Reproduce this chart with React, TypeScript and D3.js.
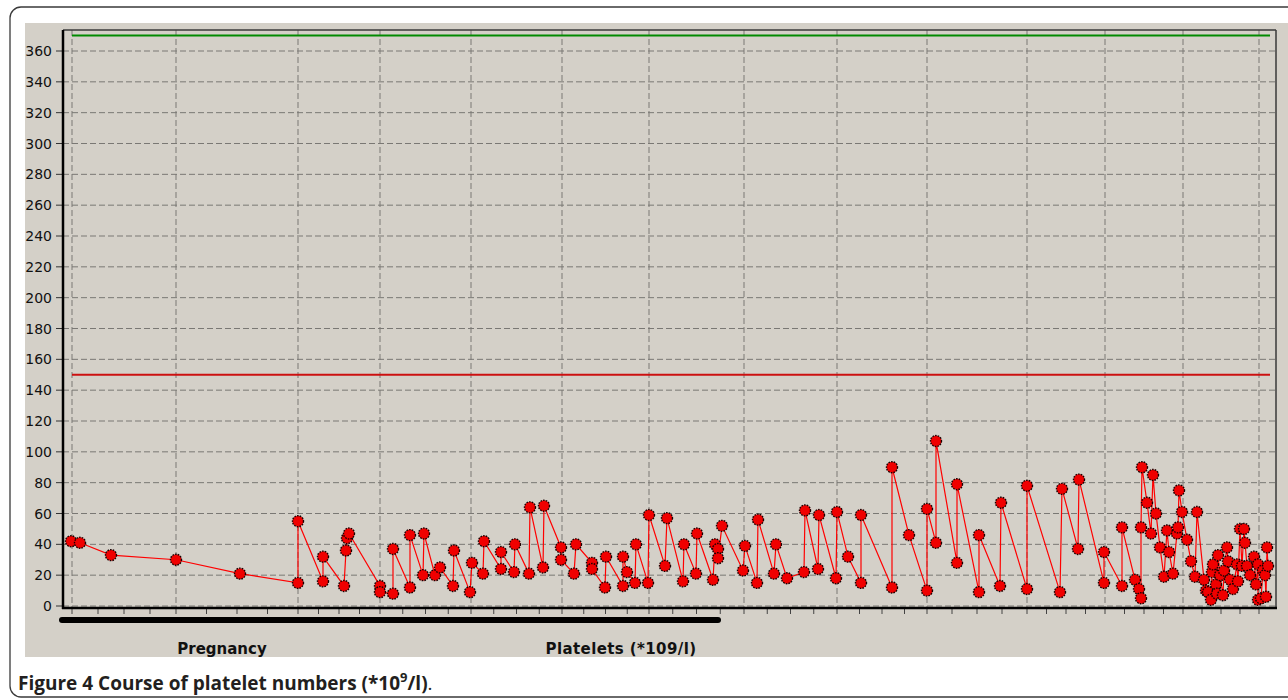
import * as d3 from "d3"

// measurement day (since first visit) and platelet count (*10^9/l)
const DAYS = [
  9, 18, 49, 114, 178, 236, 236, 261, 261, 282, 284, 285, 287, 318, 318, 331, 331, 348, 348, 361,
  362, 373, 378, 391, 392, 408, 410, 421, 422, 439, 439, 452, 453, 467, 468, 481, 482, 499, 499, 512,
  514, 530, 530, 543, 544, 561, 561, 565, 573, 574, 586, 587, 603, 605, 621, 622, 634, 635, 651, 653,
  656, 656, 660, 681, 683, 695, 696, 712, 714, 725, 742, 743, 756, 757, 774, 775, 786, 799, 799, 830,
  830, 847, 865, 865, 874, 874, 895, 895, 917, 917, 938, 939, 965, 965, 998, 1000, 1016, 1017, 1042, 1042,
  1060, 1060, 1073, 1077, 1079, 1079, 1080, 1085, 1089, 1091, 1094, 1098, 1102, 1105, 1107, 1111, 1115, 1116, 1117, 1120,
  1125, 1129, 1133, 1135, 1142, 1144, 1146, 1149, 1150, 1151, 1154, 1155, 1156, 1158, 1161, 1162, 1165, 1166, 1168, 1171,
  1175, 1176, 1178, 1180, 1182, 1183, 1185, 1188, 1192, 1194, 1196, 1196, 1199, 1201, 1203, 1204, 1205, 1206,
]
const PLATELETS = [
  42, 41, 33, 30, 21, 15, 55, 16, 32, 13, 36, 44, 47, 13, 9, 8, 37, 12, 46, 20,
  47, 20, 25, 13, 36, 9, 28, 21, 42, 24, 35, 22, 40, 21, 64, 25, 65, 38, 30, 21,
  40, 28, 24, 12, 32, 13, 32, 22, 15, 40, 15, 59, 26, 57, 16, 40, 21, 47, 17, 40,
  37, 31, 52, 23, 39, 15, 56, 21, 40, 18, 22, 62, 24, 59, 18, 61, 32, 15, 59, 12,
  90, 46, 10, 63, 41, 107, 28, 79, 9, 46, 13, 67, 11, 78, 9, 76, 37, 82, 15, 35,
  13, 51, 17, 11, 5, 51, 90, 67, 47, 85, 60, 38, 19, 49, 35, 21, 47, 51, 75, 61,
  43, 29, 19, 61, 17, 10, 9, 4, 22, 27, 14, 8, 33, 20, 7, 23, 38, 29, 17, 11,
  27, 16, 50, 26, 50, 41, 26, 20, 32, 14, 27, 4, 5, 23, 20, 6, 38, 26,
]

const GRID_DAYS = [10, 114, 236, 318, 409, 500, 587, 682, 775, 865, 965, 1043, 1121, 1197]
const Y_TICKS = [0, 20, 40, 60, 80, 100, 120, 140, 160, 180, 200, 220, 240, 260, 280, 300, 320, 340, 360]

const UPPER_LIMIT = 370
const LOWER_LIMIT = 150
const LIMIT_RANGE = [10, 1208]
const PREGNANCY = [0, 656]

const W = 1288
const H = 700
const PLOT_L = 63
const PLOT_R = 1276
const PLOT_T = 30
const AXIS_Y = 608

const GRID = "#7a7874"
const FONT = "'DejaVu Sans', Verdana, sans-serif"

export default function App() {
  const x = d3.scaleLinear().domain([0, 1214]).range([62, 1276])
  const y = d3.scaleLinear().domain([0, 360]).range([606, 51])

  const pts = DAYS.map((d, i) => [x(d), y(PLATELETS[i])] as [number, number])
  const path = d3.line()(pts) ?? ""

  // 3 minor ticks between each pair of grid days
  const minor: number[] = []
  for (let i = 0; i < GRID_DAYS.length - 1; i++) {
    const a = GRID_DAYS[i]
    const b = GRID_DAYS[i + 1]
    for (let k = 1; k < 4; k++) minor.push(a + ((b - a) * k) / 4)
  }

  return (
    <svg
      width={W}
      height={H}
      style={{ position: "absolute", left: 0, top: 0, display: "block", background: "#fff" }}
    >
      <rect x={10} y={7} width={1300} height={690} rx={11} fill="#fff" stroke="#3a3a3a" strokeWidth={1.3} />
      <rect x={25} y={23} width={W - 25} height={634} fill="#d4d0c8" />

      {/* horizontal grid */}
      {Y_TICKS.map((t) => (
        <g key={"y" + t}>
          <line x1={PLOT_L} x2={PLOT_R} y1={y(t)} y2={y(t)} stroke={GRID} strokeDasharray="6 3" />
          <line x1={56} x2={PLOT_L} y1={y(t)} y2={y(t)} stroke="#333" />
          <text
            x={52}
            y={y(t)}
            textAnchor="end"
            dominantBaseline="central"
            fontFamily={FONT}
            fontSize={14}
            fill="#111"
          >
            {t}
          </text>
        </g>
      ))}

      {/* vertical grid */}
      {GRID_DAYS.map((d) => (
        <line key={"x" + d} x1={x(d)} x2={x(d)} y1={PLOT_T} y2={AXIS_Y} stroke={GRID} strokeDasharray="6 3" />
      ))}
      {[...GRID_DAYS, ...minor].map((d, i) => (
        <line key={"t" + i} x1={x(d)} x2={x(d)} y1={AXIS_Y} y2={AXIS_Y + 6} stroke="#444" />
      ))}

      {/* frame */}
      <line x1={PLOT_L} x2={PLOT_R} y1={PLOT_T} y2={PLOT_T} stroke="#3a3a3a" strokeWidth={1.5} />
      <line x1={PLOT_R} x2={PLOT_R} y1={PLOT_T} y2={AXIS_Y} stroke="#3a3a3a" strokeWidth={1.5} />
      <line x1={PLOT_L} x2={PLOT_L} y1={PLOT_T} y2={AXIS_Y + 1} stroke="#000" strokeWidth={2.5} />
      <line x1={PLOT_L - 1} x2={PLOT_R + 1} y1={AXIS_Y} y2={AXIS_Y} stroke="#000" strokeWidth={2.5} />

      {/* reference limits */}
      <line
        x1={x(LIMIT_RANGE[0])}
        x2={x(LIMIT_RANGE[1])}
        y1={y(UPPER_LIMIT)}
        y2={y(UPPER_LIMIT)}
        stroke="#008a00"
        strokeWidth={2}
      />
      <line
        x1={x(LIMIT_RANGE[0])}
        x2={x(LIMIT_RANGE[1])}
        y1={y(LOWER_LIMIT)}
        y2={y(LOWER_LIMIT)}
        stroke="#cc1010"
        strokeWidth={2}
      />

      {/* platelet series */}
      <path d={path} fill="none" stroke="#ff0000" strokeWidth={1.2} />
      {pts.map(([cx, cy], i) => (
        <circle
          key={"p" + i}
          cx={cx}
          cy={cy}
          r={5.5}
          fill="#f00000"
          stroke="#1a0000"
          strokeWidth={1.4}
          strokeDasharray="1.6 1.1"
        />
      ))}

      {/* pregnancy bar + labels */}
      <line
        x1={x(PREGNANCY[0])}
        x2={x(PREGNANCY[1])}
        y1={620}
        y2={620}
        stroke="#000"
        strokeWidth={6}
        strokeLinecap="round"
      />
      <text x={222} y={654} textAnchor="middle" fontFamily={FONT} fontWeight="bold" fontSize={15} fill="#111">
        Pregnancy
      </text>
      <text
        x={621}
        y={654}
        textAnchor="middle"
        fontFamily={FONT}
        fontWeight="bold"
        fontSize={15}
        letterSpacing={0.4}
        fill="#111"
      >
        Platelets (*109/l)
      </text>

      {/* caption */}
      <text x={18} y={690} fontFamily="'Open Sans', 'Noto Sans', sans-serif" fontSize={19} fill="#231f20">
        <tspan fontWeight="bold">Figure 4 Course of platelet numbers (*10</tspan>
        <tspan fontWeight="bold" fontSize={13} dy={-8}>9</tspan>
        <tspan fontWeight="bold" dy={8}>/l)</tspan>
        <tspan>.</tspan>
      </text>
    </svg>
  )
}
